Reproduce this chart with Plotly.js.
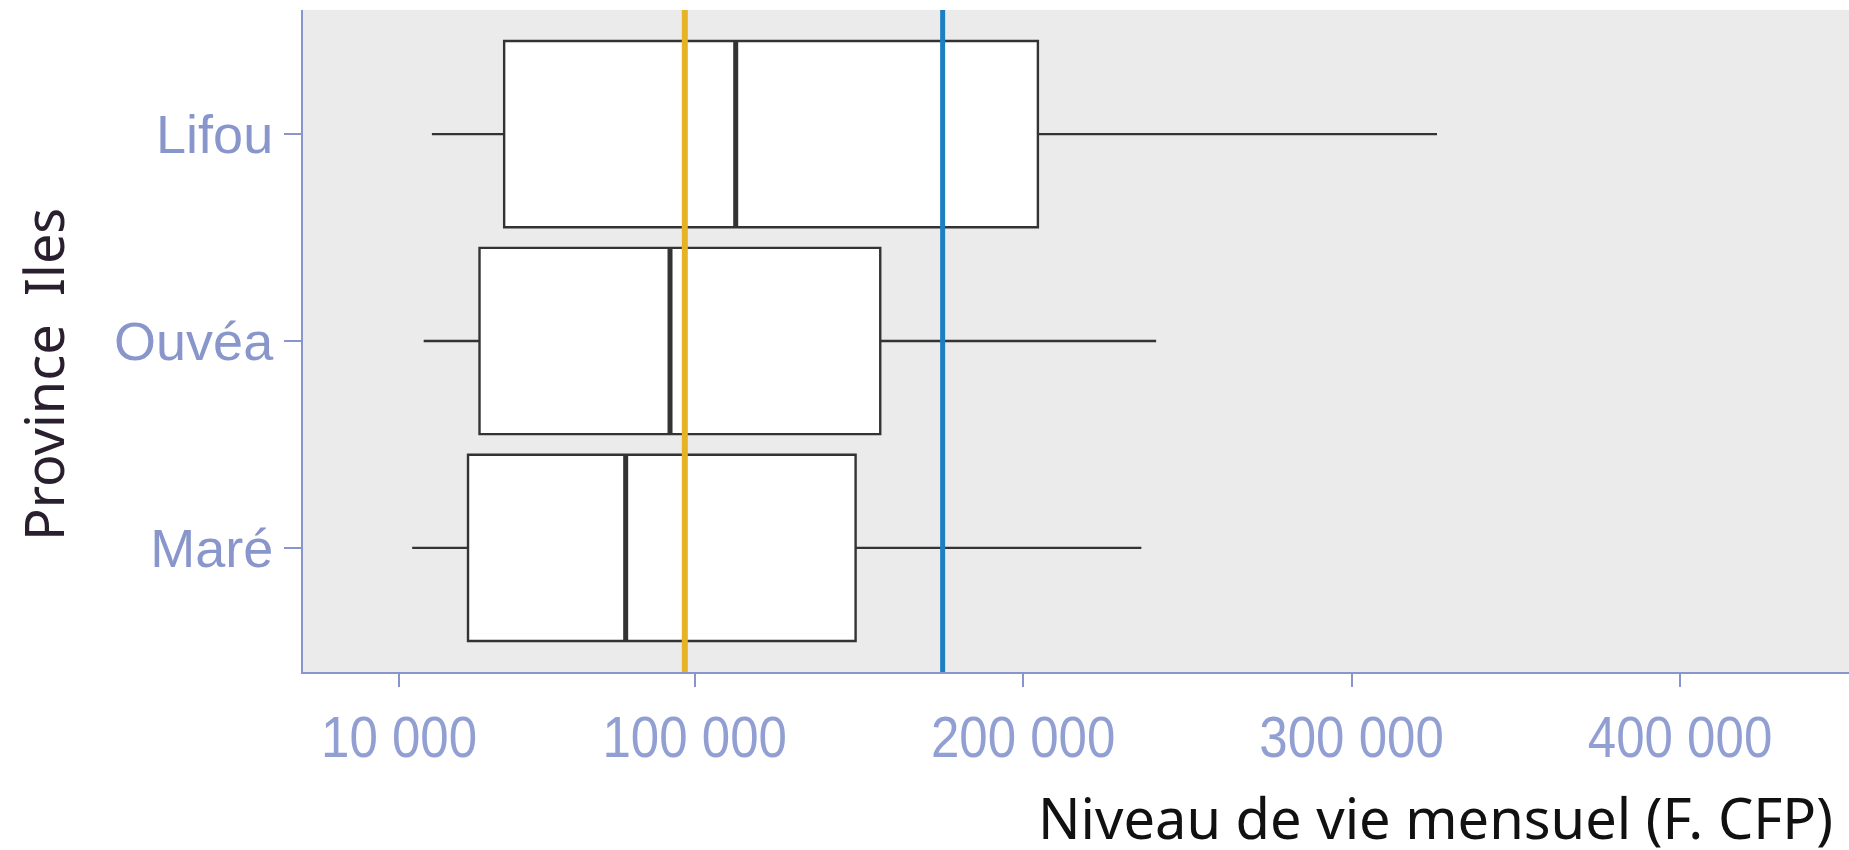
<!DOCTYPE html>
<html>
<head>
<meta charset="utf-8">
<script src="https://cdn.plot.ly/plotly-3.0.1.min.js"></script>
<style>html,body{margin:0;padding:0;background:#fff;}#chart{width:1849px;height:850px;}</style>
</head>
<body>
<div id="chart"></div>
<script>
// Data
const categories = ['Maré', 'Ouvéa', 'Lifou'];
const lowerWhisker = [14000, 17500, 20000];
const q1Values = [31000, 34500, 42000];
const medianValues = [79000, 92500, 112500];
const q3Values = [149000, 156500, 204500];
const upperWhisker = [236000, 240500, 326000];
const yellowLineValue = 97000;
const blueLineValue = 175500;
const xTickValues = [10000, 100000, 200000, 300000, 400000];
const xTickLabels = ['10 000', '100 000', '200 000', '300 000', '400 000'];

const axisColor = '#8996cc';
const boxWidth = 0.9;

const trace = {
  type: 'box',
  orientation: 'h',
  y: categories,
  q1: q1Values,
  median: medianValues,
  q3: q3Values,
  lowerfence: lowerWhisker,
  upperfence: upperWhisker,
  width: boxWidth,
  whiskerwidth: 0,
  fillcolor: '#ffffff',
  line: {color: '#333333', width: 2.4},
  boxpoints: false,
  hoverinfo: 'skip',
  showlegend: false
};

const shapes = [];
categories.forEach((c, i) => {
  shapes.push({
    type: 'line', xref: 'x', yref: 'y',
    x0: medianValues[i], x1: medianValues[i],
    y0: i - boxWidth / 2, y1: i + boxWidth / 2,
    line: {color: '#333333', width: 5}
  });
});
shapes.push({type: 'line', xref: 'x', yref: 'paper', x0: yellowLineValue, x1: yellowLineValue, y0: 0, y1: 1,
  line: {color: '#E5B325', width: 6}});
shapes.push({type: 'line', xref: 'x', yref: 'paper', x0: blueLineValue, x1: blueLineValue, y0: 0, y1: 1,
  line: {color: '#1B80C1', width: 5}});

const layout = {
  width: 1849, height: 850,
  margin: {l: 303, r: 0, t: 10, b: 178},
  paper_bgcolor: '#ffffff',
  plot_bgcolor: '#EBEBEB',
  showlegend: false,
  xaxis: {
    range: [-19240, 451440],
    tickmode: 'array',
    tickvals: xTickValues,
    ticktext: xTickLabels,
    showgrid: false, zeroline: false,
    showline: true, linecolor: axisColor, linewidth: 2,
    ticks: 'outside', ticklen: 13, tickwidth: 2, tickcolor: axisColor,
    ticklabelstandoff: 0,
    tickfont: {family: 'Liberation Sans, Arial', size: 58, color: '#929fd3'}
  },
  yaxis: {
    type: 'category',
    categoryorder: 'array',
    categoryarray: categories,
    range: [-0.6, 2.6],
    showgrid: false, zeroline: false,
    showline: true, linecolor: axisColor, linewidth: 2,
    ticks: 'outside', ticklen: 17, tickwidth: 2, tickcolor: axisColor,
    ticklabelstandoff: 0,
    tickfont: {family: 'Liberation Sans, Arial', size: 54, color: axisColor}
  },
  annotations: [{
    text: 'Niveau de vie mensuel (F. CFP)',
    xref: 'paper', yref: 'paper', x: 1, y: 0,
    xanchor: 'right', yanchor: 'middle',
    xshift: -14, yshift: -145,
    showarrow: false,
    font: {family: 'Noto Sans, Open Sans', size: 56, color: '#111111'}
  }, {
    text: 'Province\u00a0 Iles',
    xref: 'paper', yref: 'paper', x: 0, y: 0,
    xanchor: 'center', yanchor: 'middle',
    xshift: -260, yshift: 297,
    textangle: -90,
    showarrow: false,
    font: {family: 'Noto Sans, Open Sans', size: 54, color: '#2a1f2e'}
  }],
  shapes: shapes
};

Plotly.newPlot('chart', [trace], layout, {staticPlot: true, displayModeBar: false}).then(gd => {
  // reference tick numbers are drawn slightly condensed
  const sx = 0.88;
  gd.querySelectorAll('.xtick text').forEach(t => {
    const x = parseFloat(t.getAttribute('x')) || 0;
    const tr = t.getAttribute('transform') || '';
    t.setAttribute('transform', tr + ' translate(' + x + ',0) scale(' + sx + ',1) translate(' + (-x) + ',0)');
  });
});
</script>
</body>
</html>
